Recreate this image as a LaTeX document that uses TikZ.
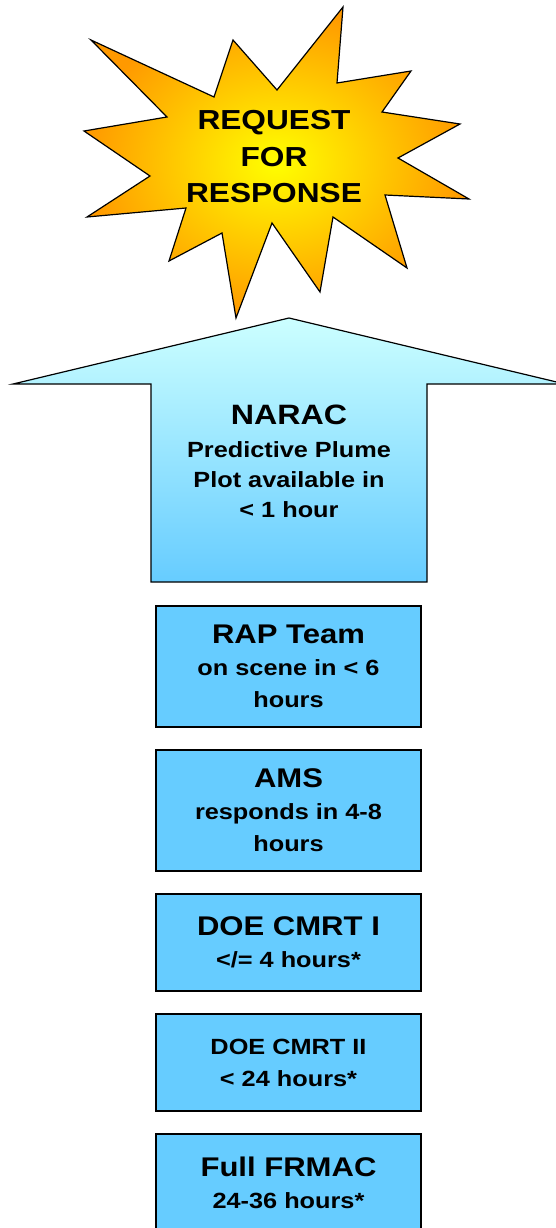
\documentclass[tikz,border=0pt]{standalone}
\usepackage{fontspec}
\setmainfont{Liberation Sans}[FakeStretch=1.15]
\usepackage{tikz}

\definecolor{boxblue}{RGB}{102,204,255}
\definecolor{arrowtop}{RGB}{204,255,255}
\definecolor{starorange}{RGB}{255,153,0}
\newcommand{\resphead}[1]{{\fontsize{27}{32}\selectfont #1}}

\begin{document}
\begin{tikzpicture}[x=1pt,y=-1pt,line width=1.2pt,
  starfill/.style={draw=black,inner color=yellow,outer color=starorange},
  arrowfill/.style={draw=black,top color=arrowtop,bottom color=boxblue},
  bigtext/.style={inner sep=0pt,align=center,font=\bfseries\fontsize{27.5}{36.5}\selectfont},
  plaintext/.style={inner sep=0pt,align=center,font=\bfseries\fontsize{22}{30}\selectfont},
  respbox/.style={draw=black,fill=boxblue,minimum width=265pt,inner sep=0pt,align=center,font=\bfseries\fontsize{22}{32}\selectfont}]
\useasboundingbox (0,0) rectangle (556,1228);
% burst
\draw[starfill] (91,40) -- (214,97) -- (233,40) -- (277,90) -- (343,7) -- (337,83)
   -- (411,71) -- (382,112) -- (460,124) -- (398,158) -- (469,199) -- (385,195)
   -- (407,268) -- (333,217) -- (320,292) -- (272,223) -- (236,318) -- (222,233)
   -- (169,261) -- (186,208) -- (87,217) -- (150,176) -- (84,131) -- (167,117) -- cycle;
\node[bigtext] (request) at (274,157) {REQUEST\\FOR\\RESPONSE};
% big arrow
\draw[arrowfill] (289,318) -- (565,384) -- (427,384) -- (427,582) -- (151,582)
   -- (151,384) -- (13,384) -- cycle;
\node[plaintext] (narac) at (289,461) {{\fontsize{28}{30}\selectfont NARAC}\\[3pt]Predictive Plume\\Plot available in\\< 1 hour};
% response boxes
\foreach \name/\top/\bot/\txt in %
{rap/606/727/{\resphead{RAP Team}\\on scene in < 6\\hours},
 ams/750/871/{\resphead{AMS}\\responds in 4-8\\hours},
 cmrtone/894/991/{\resphead{DOE CMRT I}\\</= 4 hours*},
 cmrttwo/1014/1111/{DOE CMRT II\\< 24 hours*},
 frmac/1134/1231/{\resphead{Full FRMAC}\\24-36 hours*}} {
   \node[respbox,minimum height={\bot-\top}] (\name) at (288.5,{(\top+\bot)/2}) {\txt};
}
\end{tikzpicture}
\end{document}
